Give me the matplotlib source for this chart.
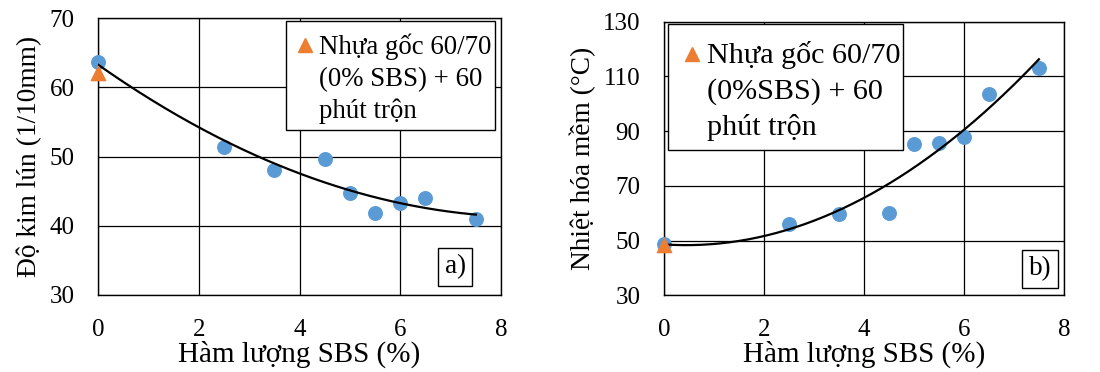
import numpy as np
import matplotlib
matplotlib.use("Agg")
import matplotlib.pyplot as plt
from matplotlib.patches import Rectangle

plt.rcParams['font.family'] = ['Liberation Serif', 'DejaVu Serif']

# SBS content (%)
sbs = [0, 2.5, 3.5, 4.5, 5, 5.5, 6, 6.5, 7.5]

# a) penetration (1/10mm)
penetration = [63.6, 51.4, 48.0, 49.6, 44.8, 41.8, 43.3, 44.0, 41.0]
penetration_base = 62.1

# b) softening point (C)
softening = [48.8, 56.0, 59.6, 60.0, 85.3, 85.5, 87.9, 103.5, 113.0]
softening_base = 48.4

legend_a = ["Nhựa gốc 60/70", "(0% SBS) + 60", "phút trộn"]
legend_b = ["Nhựa gốc 60/70", "(0%SBS) + 60", "phút trộn"]

blue = "#5B9BD5"
orange = "#ED7D31"
tick_fs = 18

fig = plt.figure(figsize=(11, 3.72), dpi=100)
ax1 = fig.add_axes([0.0891, 0.207, 0.3664, 0.7446])
ax2 = fig.add_axes([0.6036, 0.2062, 0.3636, 0.7355])


def draw_panel(ax, y, base, ylim, yticks, ylabel):
    # quadratic trendline like excel
    coef = np.polyfit(sbs, y, 2)
    xs = np.linspace(0, 7.5, 200)
    ax.plot(xs, np.polyval(coef, xs), color="black", lw=1.6, zorder=4)
    ax.scatter(sbs, y, s=95, color=blue, zorder=3, clip_on=False)
    ax.scatter([0], [base], s=105, marker="^", color=orange, zorder=5,
               clip_on=False)

    ax.set_xlim(0, 8)
    ax.set_ylim(*ylim)
    ax.set_xticks([0, 2, 4, 6, 8])
    ax.set_yticks(yticks)
    ax.grid(True, color="black", lw=0.9)
    ax.set_axisbelow(True)
    for s in ax.spines.values():
        s.set_color("black")
        s.set_linewidth(1.0)
    ax.tick_params(length=0, labelsize=tick_fs, pad=17)
    ax.set_xlabel("Hàm lượng SBS (%)", fontsize=21, labelpad=0)
    ax.set_ylabel(ylabel, fontsize=19.7, labelpad=5)


def draw_legend(ax, lines, box, text_x, baselines, tri_xy, fs):
    # box = (x0, y0, x1, y1) in axes fraction
    ax.add_patch(Rectangle((box[0], box[1]), box[2] - box[0], box[3] - box[1],
                           transform=ax.transAxes, fc="white", ec="black",
                           lw=1.0, zorder=7, clip_on=False))
    for line, yb in zip(lines, baselines):
        ax.text(text_x, yb, line, transform=ax.transAxes, fontsize=fs,
                ha="left", va="baseline", zorder=8)
    ax.plot([tri_xy[0]], [tri_xy[1]], marker="^", ms=9.5, color=orange,
            linestyle="none", transform=ax.transAxes, zorder=8, clip_on=False)


def draw_tag(ax, tag, xy):
    ax.text(xy[0], xy[1], tag, transform=ax.transAxes, fontsize=19.5,
            ha="center", va="center", zorder=6,
            bbox=dict(boxstyle="square,pad=0.25", fc="white", ec="black", lw=1.0))


draw_panel(ax1, penetration, penetration_base, (30, 70), [30, 40, 50, 60, 70],
           "Độ kim lún (1/10mm)")
draw_legend(ax1, legend_a, (0.4665, 0.5957, 0.9851, 0.989), 0.548,
            [0.870, 0.7545, 0.639], (0.514, 0.9025), 19.4)
draw_tag(ax1, "a)", (0.886, 0.101))

draw_panel(ax2, softening, softening_base, (30, 130), [30, 50, 70, 90, 110, 130],
           "Nhiệt hóa mềm (°C)")
draw_legend(ax2, legend_b, (0.01, 0.531, 0.5975, 0.9916), 0.1075,
            [0.849, 0.718, 0.586], (0.071, 0.882), 21.7)
draw_tag(ax2, "b)", (0.94, 0.096))

fig.savefig("out.png", dpi=100)
